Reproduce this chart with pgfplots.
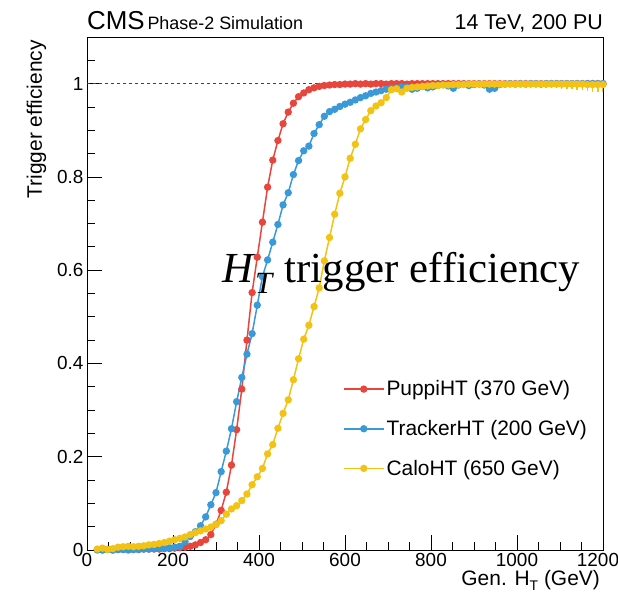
\documentclass[border=0pt]{standalone}
\usepackage{fontspec}
\setmainfont{Liberation Sans}
\newfontfamily\timesfont{Liberation Serif}
\usepackage{pgfplots}
\pgfplotsset{compat=1.18}
\usepackage{pgfplotstable}
\definecolor{cred}{RGB}{232,69,60}
\definecolor{cblue}{RGB}{58,154,217}
\definecolor{cyellow}{RGB}{242,195,20}

\pgfplotstableread{
x y
24 0.001
36 0.000
48 0.001
60 0.000
72 0.001
84 0.001
96 0.001
108 0.001
120 0.001
132 0.002
144 0.002
156 0.002
168 0.002
180 0.003
192 0.003
204 0.004
216 0.005
228 0.006
240 0.008
252 0.011
264 0.016
276 0.022
288 0.033
300 0.055
312 0.085
324 0.124
336 0.182
348 0.258
360 0.345
372 0.450
384 0.552
396 0.628
408 0.703
420 0.778
432 0.836
444 0.878
456 0.914
468 0.939
480 0.958
492 0.972
504 0.980
516 0.987
528 0.991
540 0.994
552 0.996
564 0.997
576 0.998
588 0.998
600 0.999
612 0.999
624 1.000
636 0.999
648 1.000
660 0.999
672 1.000
684 1.000
696 0.999
708 1.000
720 1.000
732 1.000
744 0.999
756 1.000
768 1.000
780 1.000
792 1.000
804 1.000
816 1.000
828 1.000
840 1.000
852 1.000
864 1.000
876 1.000
888 1.000
900 1.000
912 1.000
924 1.000
936 1.000
948 1.000
960 1.000
972 1.000
984 1.000
996 1.000
1008 1.000
1020 1.000
1032 1.000
1044 1.000
1056 1.000
1068 1.000
1080 1.000
1092 1.000
1104 1.000
1116 1.000
1128 1.000
1140 1.000
1152 1.000
1164 1.000
1176 1.000
1188 1.000
1200 1.000
}\puppi

\pgfplotstableread{
x y
24 0.000
36 0.000
48 0.001
60 0.000
72 0.001
84 0.001
96 0.000
108 0.001
120 0.001
132 0.002
144 0.002
156 0.003
168 0.003
180 0.004
192 0.005
204 0.006
216 0.008
228 0.018
240 0.029
252 0.039
264 0.052
276 0.071
288 0.097
300 0.123
312 0.168
324 0.212
336 0.260
348 0.318
360 0.370
372 0.420
384 0.464
396 0.525
408 0.586
420 0.622
432 0.660
444 0.698
456 0.740
468 0.766
480 0.805
492 0.835
504 0.856
516 0.866
528 0.893
540 0.912
552 0.930
564 0.940
576 0.945
588 0.951
600 0.956
612 0.960
624 0.965
636 0.970
648 0.974
660 0.979
672 0.982
684 0.985
696 0.988
708 0.990
720 0.991
732 0.993
744 0.992
756 0.988
768 0.990
780 0.994
792 0.991
804 0.993
816 0.996
828 0.998
840 0.995
852 0.990
864 0.997
876 0.999
888 0.996
900 0.998
912 0.999
924 0.997
936 0.988
948 0.990
960 0.998
972 0.999
984 1.000
996 0.999
1008 1.000
1020 0.999
1032 1.000
1044 1.000
1056 0.999
1068 1.000
1080 1.000
1092 1.000
1104 1.000
1116 1.000
1128 1.000
1140 1.000
1152 1.000
1164 1.000
1176 1.000
1188 1.000
1200 1.000
}\tracker

\pgfplotstableread{
x y ey
24 0.002 0
36 0.004 0
48 0.001 0
60 0.003 0
72 0.006 0
84 0.007 0
96 0.008 0
108 0.007 0
120 0.008 0
132 0.009 0
144 0.011 0
156 0.012 0
168 0.014 0
180 0.016 0
192 0.019 0
204 0.022 0
216 0.025 0
228 0.028 0
240 0.033 0
252 0.037 0
264 0.041 0
276 0.045 0
288 0.049 0
300 0.055 0
312 0.063 0
324 0.077 0
336 0.088 0
348 0.095 0
360 0.106 0
372 0.120 0
384 0.140 0
396 0.157 0
408 0.175 0
420 0.206 0
432 0.226 0
444 0.261 0
456 0.293 0
468 0.322 0
480 0.365 0
492 0.410 0
504 0.452 0
516 0.482 0
528 0.522 0
540 0.562 0
552 0.620 0
564 0.670 0
576 0.720 0
588 0.765 0
600 0.800 0
612 0.840 0
624 0.870 0
636 0.903 0
648 0.923 0
660 0.942 0
672 0.952 0
684 0.959 0
696 0.970 0
708 0.987 0
720 0.989 0
732 0.982 0
744 0.990 0
756 0.992 0
768 0.993 0
780 0.994 0
792 0.995 0
804 0.996 0
816 0.996 0
828 0.997 0
840 0.997 0
852 0.998 0
864 0.998 0
876 0.998 0
888 0.999 0
900 0.999 0
912 0.999 0
924 0.999 0
936 0.999 0
948 0.999 0
960 0.999 0
972 0.999 0
984 0.999 0
996 0.999 0.005
1008 0.999 0.006
1020 0.999 0.006
1032 0.999 0.007
1044 0.999 0.007
1056 0.999 0.008
1068 0.999 0.008
1080 0.999 0.009
1092 0.999 0.009
1104 0.999 0.010
1116 0.999 0.011
1128 0.999 0.011
1140 0.999 0.012
1152 0.999 0.013
1164 0.998 0.014
1176 0.998 0.015
1188 0.998 0.016
1200 0.998 0.017
}\calo

\begin{document}
\begin{tikzpicture}
\useasboundingbox (-87bp,-44bp) rectangle (531bp,550bp);
\begin{axis}[
  scale only axis, width=516bp, height=513bp,
  xmin=0, xmax=1200, ymin=0, ymax=1.1,
  xtick={0,200,400,600,800,1000,1200},
  xticklabels={0,200,400,600,800,1000,{\hspace{-10bp}1200}},
  ytick={0,0.2,0.4,0.6,0.8,1},
  minor xtick={50,100,150,250,300,350,450,500,550,650,700,750,850,900,950,1050,1100,1150},
  minor ytick={0.05,0.1,0.15,0.25,0.3,0.35,0.45,0.5,0.55,0.65,0.7,0.75,0.85,0.9,0.95,1.05},
  xtick pos=bottom, ytick pos=left,
  tick align=inside,
  major tick length=15bp, minor tick length=8bp,
  tick style={black, line width=0.8bp},
  axis line style={line width=0.9bp},
  ticklabel style={font=\fontsize{19}{22}\selectfont},
  /pgf/number format/assume math mode=true,
  /pgf/number format/set thousands separator={},
  legend style={draw=none, fill=none, at={(0.49,0.338)}, anchor=north west,
    font=\fontsize{21}{24}\selectfont, row sep=19bp,
    /tikz/every even column/.append style={column sep=4bp}},
  legend cell align=left,
  legend image code/.code={\draw[mark repeat=2,mark phase=2,#1] plot coordinates {(0bp,0bp) (20bp,0bp) (40bp,0bp)};},
  every axis plot/.append style={line width=1.5bp, mark=*, mark size=2.9bp},
]
\addplot[black!75, dash pattern=on 3bp off 3bp, line width=0.6bp, mark=none, forget plot] coordinates {(0,1) (1200,1)};
\addplot[cred, mark options={fill=cred, draw=cred}] table[x=x,y=y] {\puppi};
\addlegendentry{PuppiHT (370 GeV)}
\addplot[cblue, mark options={fill=cblue, draw=cblue}] table[x=x,y=y] {\tracker};
\addlegendentry{TrackerHT (200 GeV)}
\addplot[cyellow, mark options={fill=cyellow, draw=cyellow},
  error bars/.cd, y dir=minus, y explicit, error mark=none,
  error bar style={line width=1.5bp, cyellow}] table[x=x,y=y,y error=ey] {\calo};
\addlegendentry{CaloHT (650 GeV)}
\end{axis}
\node[anchor=base west, inner sep=0pt] at (0bp,520bp) {{\fontsize{26}{30}\selectfont CMS} {\fontsize{18}{21}\selectfont Phase-2 Simulation}};
\node[anchor=base east, inner sep=0pt] at (516bp,520bp) {\fontsize{21.5}{24}\selectfont 14 TeV, 200 PU};
\node[rotate=90, anchor=base east, inner sep=0pt] at (-45bp,510bp) {\fontsize{21}{24}\selectfont Trigger efficiency};
\node[anchor=base east, inner sep=0pt] at (513bp,-35bp) {\fontsize{21}{24}\selectfont Gen. H\raisebox{-0.25em}{\fontsize{14}{15}\selectfont T} (GeV)};
\node[anchor=base west, inner sep=0pt] at (135bp,267bp) {\timesfont\fontsize{43}{47}\selectfont\textit{H}\raisebox{-0.25em}{\fontsize{31}{31}\selectfont\textit{T}} trigger efficiency};
\end{tikzpicture}
\end{document}
